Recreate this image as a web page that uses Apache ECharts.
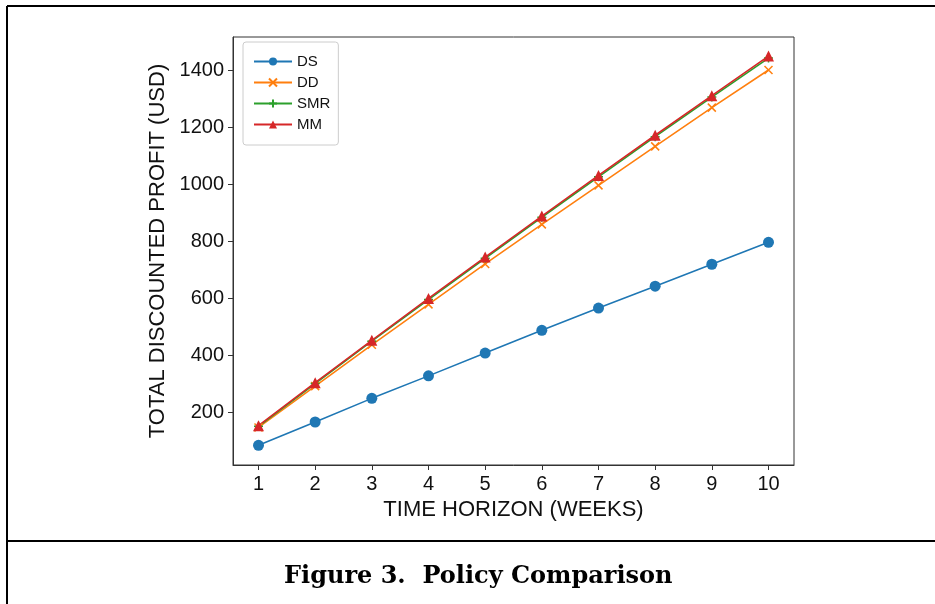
<!DOCTYPE html>
<html><head><meta charset="utf-8">
<script src="https://cdn.jsdelivr.net/npm/echarts@6/dist/echarts.min.js"></script>
<style>html,body{margin:0;padding:0;background:#fff}#c{width:935px;height:604px}</style>
</head><body><div id="c"></div>
<script>
const weeks = [1,2,3,4,5,6,7,8,9,10];
const ds  = [84,166,249,328,408,488,566,643,720,797];
const dd  = [147,292,437,579,721,860,997,1134,1270,1402];
const smr = [151,301,450,596,741,885,1027,1168,1307,1444];
const mm  = [153,304,453,600,745,889,1032,1173,1312,1451];
const xTicks = [1,2,3,4,5,6,7,8,9,10];
const yTicks = [200,400,600,800,1000,1200,1400];
const seriesNames = ['DS','DD','SMR','MM'];
const colors = ['#1f77b4','#ff7f0e','#2ca02c','#d62728'];

const pairs = a => weeks.map((w,i)=>[w,a[i]]);
const xPath = 'path://M0,0L10,10M10,0L0,10';
const plusPath = 'path://M5,0L5,10M0,5L10,5';
const font = 'Liberation Sans, Arial, sans-serif';

const chart = echarts.init(document.getElementById('c'));
function mk(name, data, color, symbol, size, stroke){
  return {
    name, type:'line', data: pairs(data), symbol, symbolSize:size,
    lineStyle:{color, width:1.6},
    itemStyle: stroke ? {color:'transparent', borderColor:color, borderWidth:1.5} : {color, borderWidth:0},
    emphasis:{disabled:true}, animation:false
  };
}
chart.setOption({
  animation:false,
  color: colors,
  grid:{left:233, right:141, top:37, bottom:139, show:true, borderColor:'#333', borderWidth:1, containLabel:false},
  xAxis:{type:'value', min:0.55, max:10.45,
    name:'TIME HORIZON (WEEKS)', nameLocation:'middle', nameGap:32,
    nameTextStyle:{fontFamily:font, fontSize:22, color:'#111'},
    axisLine:{show:true, lineStyle:{color:'#333'}},
    axisTick:{show:true, length:5, customValues:xTicks, lineStyle:{color:'#333'}},
    axisLabel:{customValues:xTicks, fontFamily:font, fontSize:20, color:'#111', margin:9},
    splitLine:{show:false}},
  yAxis:{type:'value', min:15, max:1518,
    name:'TOTAL DISCOUNTED PROFIT (USD)', nameLocation:'middle', nameGap:64, nameRotate:90,
    nameTextStyle:{fontFamily:font, fontSize:22, color:'#111'},
    axisLine:{show:true, lineStyle:{color:'#333'}},
    axisTick:{show:true, length:5, customValues:yTicks, lineStyle:{color:'#333'}},
    axisLabel:{customValues:yTicks, formatter: v => String(v), fontFamily:font, fontSize:20, color:'#111', margin:9},
    splitLine:{show:false}},
  legend:{orient:'vertical', left:243, top:42, data:seriesNames,
    itemWidth:38, itemHeight:10, itemGap:6,
    padding:[12,8,13,10], borderColor:'#ccc', borderWidth:1, borderRadius:3,
    textStyle:{fontFamily:font, fontSize:15, color:'#111'}},
  title:{text:'Figure 3.  Policy Comparison', left:284, top:565, padding:0,
    textStyle:{fontFamily:'DejaVu Serif, Liberation Serif, serif', fontWeight:'bold', fontSize:24, color:'#000'}},
  graphic:[
    {type:'line', shape:{x1:7, y1:6, x2:935, y2:6}, style:{stroke:'#000', lineWidth:2}},
    {type:'line', shape:{x1:7, y1:6, x2:7, y2:604}, style:{stroke:'#000', lineWidth:2}},
    {type:'line', shape:{x1:7, y1:541, x2:935, y2:541}, style:{stroke:'#000', lineWidth:2}}
  ],
  series:[
    mk('DS', ds, colors[0], 'circle', 11, false),
    mk('DD', dd, colors[1], xPath, 8, true),
    mk('SMR', smr, colors[2], plusPath, 9, true),
    mk('MM', mm, colors[3], 'triangle', 11, false)
  ]
});
</script></body></html>
